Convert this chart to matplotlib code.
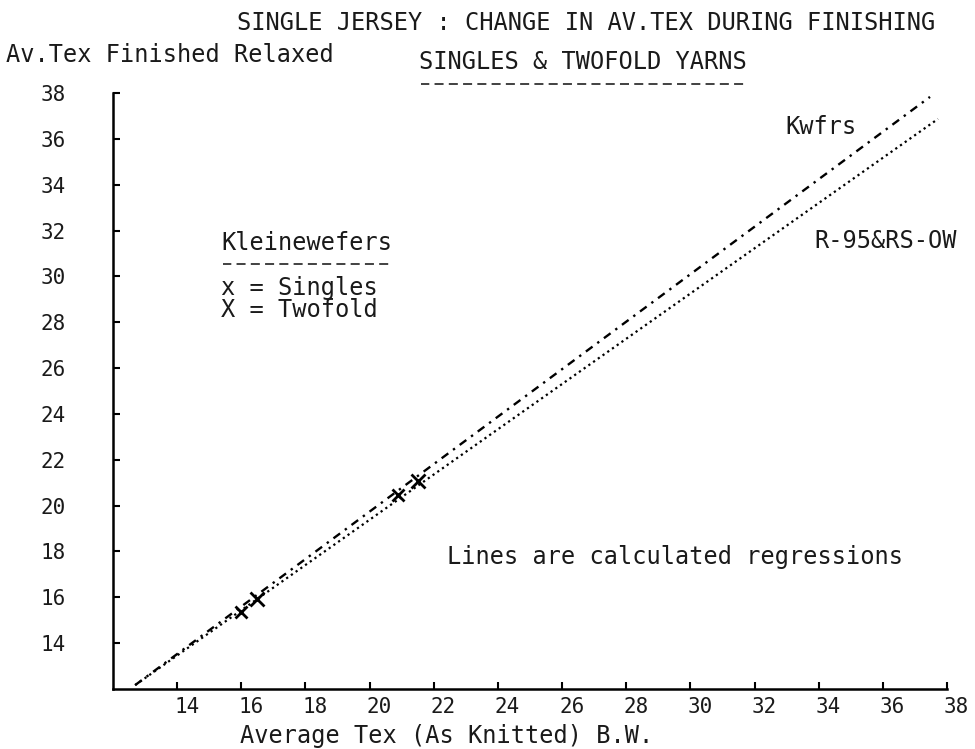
import matplotlib
matplotlib.use("Agg")
import matplotlib.pyplot as plt
import matplotlib.transforms as mtransforms
from matplotlib.lines import Line2D

# ---- data ----
x_ticks = [14, 16, 18, 20, 22, 24, 26, 28, 30, 32, 34, 36, 38]
y_ticks = [14, 16, 18, 20, 22, 24, 26, 28, 30, 32, 34, 36, 38]

kwfrs_x = [12.69, 37.47]
kwfrs_y = [12.17, 37.83]
r95_x = [12.69, 37.72]
r95_y = [12.17, 36.87]

singles_x = [15.99, 20.88]
singles_y = [15.34, 20.46]
twofold_x = [16.48, 21.51]
twofold_y = [15.93, 21.08]

FONT = "DejaVu Sans Mono"
TC = "#1a1a1a"
W, H = 975, 749

fig = plt.figure(figsize=(9.75, 7.49), dpi=100)
ax = fig.add_axes([113 / W, 1 - 689 / H, (947 - 113) / W, (689 - 93) / H])
ax.set_xlim(12, 38)
ax.set_ylim(12, 38)

ax.plot(kwfrs_x, kwfrs_y, color="black", lw=1.7, linestyle=(0, (3.5, 2.5, 1, 2.5)))
ax.plot(r95_x, r95_y, color="black", lw=1.6, linestyle=(0, (1, 1.6)))
ax.plot(singles_x, singles_y, linestyle="none", marker="x", color="black",
        markersize=8, markeredgewidth=2)
ax.plot(twofold_x, twofold_y, linestyle="none", marker="x", color="black",
        markersize=10, markeredgewidth=2)

for s in ["top", "right"]:
    ax.spines[s].set_visible(False)
for s in ["left", "bottom"]:
    ax.spines[s].set_linewidth(1.8)
    ax.spines[s].set_color("black")

ax.set_xticks(x_ticks)
ax.set_yticks(y_ticks)
ax.set_xticklabels([str(v) for v in x_ticks], fontfamily=FONT, fontsize=15, color=TC)
ax.set_yticklabels([str(v) for v in y_ticks], fontfamily=FONT, fontsize=15, color=TC)
ax.tick_params(axis="both", direction="in", length=5, width=1.5, colors="black")
ax.tick_params(axis="x", pad=6, labelcolor=TC)
ax.tick_params(axis="y", pad=34, labelcolor=TC)
for lbl in ax.get_xticklabels():
    lbl.set_horizontalalignment("left")
    lbl.set_transform(lbl.get_transform() + mtransforms.ScaledTranslation(-3 / 100, 0, fig.dpi_scale_trans))

# ---- texts ----
def ftext(x, y, s, size=17, ha="left"):
    fig.text(x / W, 1 - y / H, s, fontfamily=FONT, fontsize=size, color=TC,
             ha=ha, va="center")

def dash_rule(x0, x1, y):
    fig.add_artist(Line2D([x0 / W, x1 / W], [1 - y / H, 1 - y / H], transform=fig.transFigure,
                          color="#333333", lw=1.3, linestyle=(0.4, (5.0, 2.9))))

ftext(237, 23, "SINGLE JERSEY : CHANGE IN AV.TEX DURING FINISHING")
ftext(6, 55, "Av.Tex Finished Relaxed")
ftext(419, 62, "SINGLES & TWOFOLD YARNS")
dash_rule(421, 745, 84)
ftext(240, 736, "Average Tex (As Knitted) B.W.")

ftext(785, 127, "Kwfrs")
ftext(814, 241, "R-95&RS-OW")
ftext(221, 243, "Kleinewefers")
dash_rule(223, 390, 264)
ftext(221, 288, "x = Singles")
ftext(221, 310, "X = Twofold")
ftext(447, 557, "Lines are calculated regressions")

fig.savefig("out.png", dpi=100, facecolor="white")
